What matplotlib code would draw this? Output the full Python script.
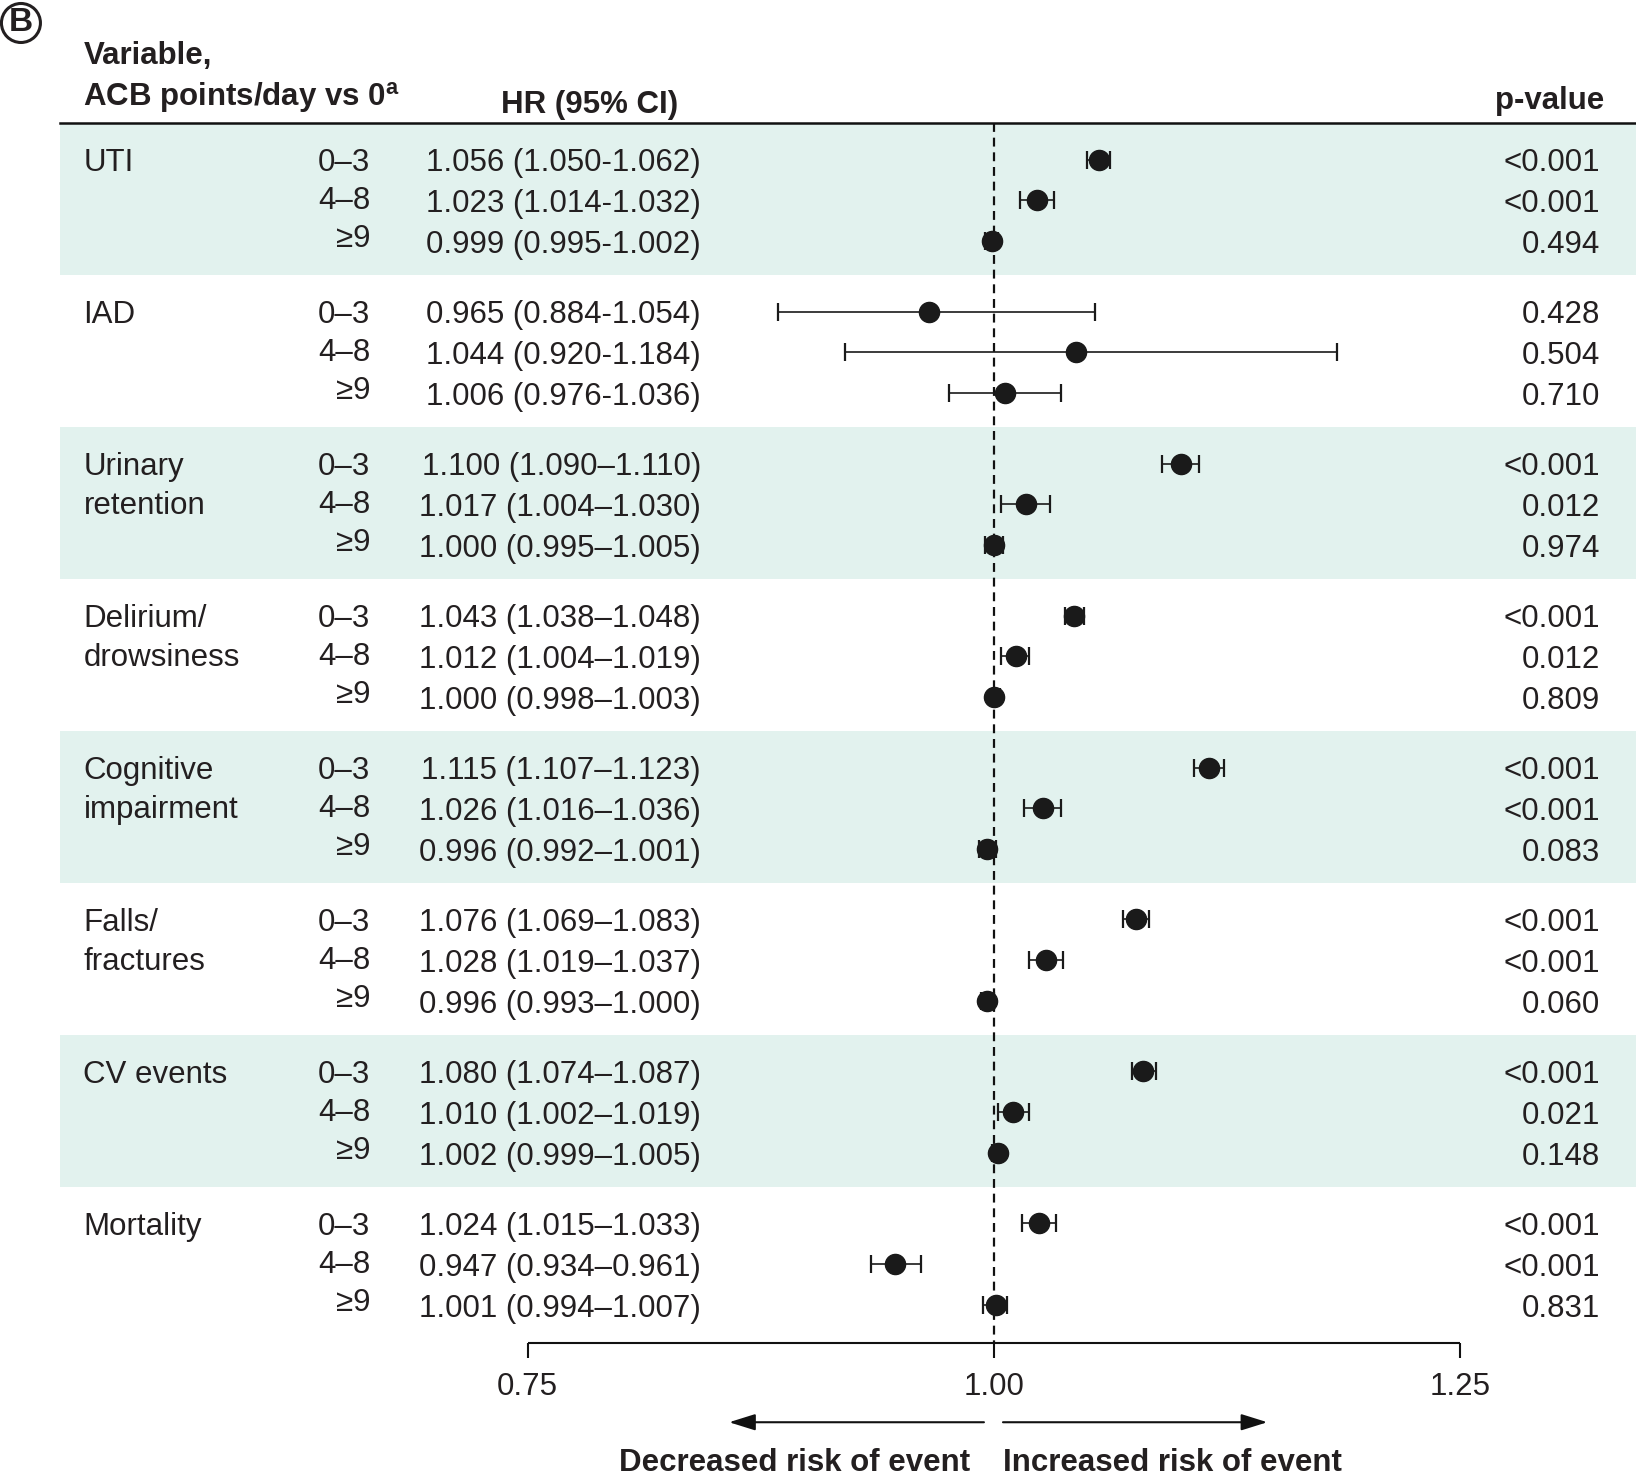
import matplotlib
matplotlib.use("Agg")
import matplotlib.pyplot as plt
from matplotlib.transforms import blended_transform_factory

plt.rcParams['font.family'] = ['Liberation Sans', 'DejaVu Sans']
plt.rcParams['mathtext.fontset'] = 'custom'
plt.rcParams['mathtext.rm'] = 'Liberation Sans'

# ---------------- data ----------------
groups = ["UTI", "IAD", "Urinary\nretention", "Delirium/\ndrowsiness",
          "Cognitive\nimpairment", "Falls/\nfractures", "CV events", "Mortality"]
levels = ["0\u20133", "4\u20138", "\u22659"]
separators = ["-", "-", "\u2013", "\u2013", "\u2013", "\u2013", "\u2013", "\u2013"]

hr = [[1.056, 1.023, 0.999],
      [0.965, 1.044, 1.006],
      [1.100, 1.017, 1.000],
      [1.043, 1.012, 1.000],
      [1.115, 1.026, 0.996],
      [1.076, 1.028, 0.996],
      [1.080, 1.010, 1.002],
      [1.024, 0.947, 1.001]]
lo = [[1.050, 1.014, 0.995],
      [0.884, 0.920, 0.976],
      [1.090, 1.004, 0.995],
      [1.038, 1.004, 0.998],
      [1.107, 1.016, 0.992],
      [1.069, 1.019, 0.993],
      [1.074, 1.002, 0.999],
      [1.015, 0.934, 0.994]]
hi = [[1.062, 1.032, 1.002],
      [1.054, 1.184, 1.036],
      [1.110, 1.030, 1.005],
      [1.048, 1.019, 1.003],
      [1.123, 1.036, 1.001],
      [1.083, 1.037, 1.000],
      [1.087, 1.019, 1.005],
      [1.033, 0.961, 1.007]]
pvals = [["<0.001", "<0.001", "0.494"],
         ["0.428", "0.504", "0.710"],
         ["<0.001", "0.012", "0.974"],
         ["<0.001", "0.012", "0.809"],
         ["<0.001", "<0.001", "0.083"],
         ["<0.001", "<0.001", "0.060"],
         ["<0.001", "0.021", "0.148"],
         ["<0.001", "<0.001", "0.831"]]
ticks = [0.75, 1.00, 1.25]
tick_labels = ["0.75", "1.00", "1.25"]
ref_hr = 1.0

# ---------------- layout ----------------
W, H = 1636, 1479
fig = plt.figure(figsize=(W / 100, H / 100), dpi=100)
ax = fig.add_axes([0, 0, 1, 1])
ax.set_xlim(0.4672, 1.3441)
ax.set_ylim(32.425, -3.922)
ax.axis('off')
tr = blended_transform_factory(ax.transAxes, ax.transData)

TXT = '#231f20'
BAND = '#e2f2ee'
FS = 22.5
G = 3.735          # rows per group block
DY = 0.09          # vertical text nudge
band_left = 0.0367

x_name = 0.051
x_level = 0.2262
x_hr = 0.4285
x_p = 0.978

for g, name in enumerate(groups):
    top = g * G - 0.9
    if g % 2 == 0:
        ax.axhspan(top, top + G, xmin=band_left, xmax=1, color=BAND, lw=0, zorder=0)
    for i, line in enumerate(name.split("\n")):
        ax.text(x_name, g * G + i * 0.95 + DY, line, transform=tr, ha='left', va='center',
                fontsize=FS, color=TXT)
    for r in range(3):
        y = g * G + r
        ax.text(x_level, y - [0, 0.07, 0.13][r] + DY, levels[r], transform=tr, ha='right',
                va='center', fontsize=FS, color=TXT)
        s = f"{hr[g][r]:.3f} ({lo[g][r]:.3f}{separators[g]}{hi[g][r]:.3f})"
        ax.text(x_hr, y + DY, s, transform=tr, ha='right', va='center', fontsize=FS, color=TXT)
        ax.text(x_p, y + DY, pvals[g][r], transform=tr, ha='right', va='center',
                fontsize=FS, color=TXT)
        ax.errorbar(hr[g][r], y, xerr=[[hr[g][r] - lo[g][r]], [hi[g][r] - hr[g][r]]],
                    fmt='o', ms=14.5, color='#1a1a1a', ecolor='#1a1a1a',
                    elinewidth=1.2, capsize=6.5, capthick=1.6, zorder=4)

# header
ax.axhline(-0.9, xmin=band_left, xmax=1, color='#111111', lw=1.8, zorder=2)
ax.text(x_name, -2.64 + DY, "Variable,", transform=tr, ha='left', va='center',
        fontsize=FS, fontweight='bold', color=TXT)
ax.text(x_name, -1.615 + DY, r"ACB points/day vs 0$^{\mathregular{a}}$", transform=tr,
        ha='left', va='center', fontsize=FS, fontweight='bold', color=TXT)
ax.text(0.306, -1.44 + DY, "HR (95% CI)", transform=tr, ha='left', va='center',
        fontsize=FS, fontweight='bold', color=TXT)
ax.text(0.9804, -1.54 + DY, "p-value", transform=tr, ha='right', va='center',
        fontsize=FS, fontweight='bold', color=TXT)
ax.text(0.0128, -3.357, "B", transform=tr, ha='center', va='center',
        fontsize=24, fontweight='bold', color=TXT,
        bbox=dict(boxstyle='circle,pad=0.12', fc='white', ec=TXT, lw=2.2))

# reference line
axis_y = 29.08
ax.vlines(ref_hr, -0.9, axis_y, colors='#111111', linestyles=(0, (4, 2.6)), lw=1.6, zorder=3)

# x axis
ax.hlines(axis_y, ticks[0], ticks[-1], colors='#111111', lw=1.5)
ax.vlines(ticks, axis_y, axis_y + 0.38, colors='#111111', lw=1.5)
for t, lab in zip(ticks, tick_labels):
    ax.text(t, 30.07 + DY, lab, ha='center', va='center', fontsize=FS, color=TXT)

# arrows
arrow_y = 31.03
aprops = dict(arrowstyle='-|>,head_length=0.8,head_width=0.25', lw=1.5, color='#111111',
              shrinkA=0, shrinkB=0, mutation_scale=20)
ax.annotate('', xy=(0.858, arrow_y), xytext=(0.9946, arrow_y), arrowprops=aprops)
ax.annotate('', xy=(1.1465, arrow_y), xytext=(1.0048, arrow_y), arrowprops=aprops)
ax.text(0.987, 31.93 + DY, "Decreased risk of event", ha='right', va='center',
        fontsize=FS, fontweight='bold', color=TXT)
ax.text(1.005, 31.93 + DY, "Increased risk of event", ha='left', va='center',
        fontsize=FS, fontweight='bold', color=TXT)

fig.savefig("out.png", dpi=100, facecolor='white')
